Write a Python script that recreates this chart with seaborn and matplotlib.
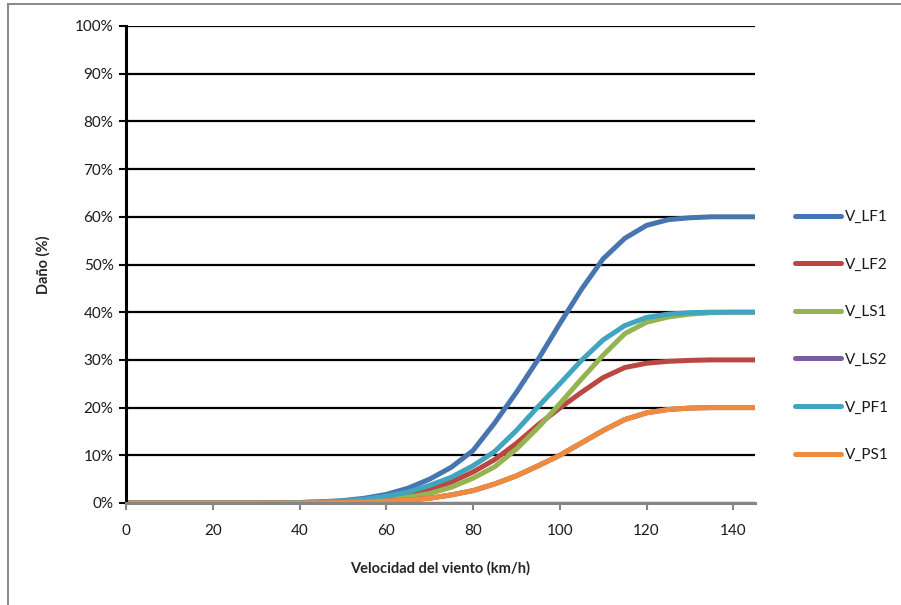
import matplotlib
matplotlib.use("Agg")
import matplotlib.pyplot as plt
from matplotlib.patches import Rectangle
from matplotlib.ticker import FuncFormatter
import seaborn as sns
import pandas as pd

# ---------------- data ----------------
speed = [0, 5, 10, 15, 20, 25, 30, 35, 40, 45, 50, 55, 60, 65, 70, 75,
         80, 85, 90, 95, 100, 105, 110, 115, 120, 125, 130, 135, 140, 145]

V_LF1 = [0, 0, 0, 0, 0, 0, 0, 0.05, 0.1, 0.25, 0.5, 1.0, 1.8, 3.1, 5.0, 7.5,
         11.0, 16.8, 23.2, 30.1, 37.6, 44.8, 51.2, 55.5, 58.2, 59.4, 59.8, 60, 60, 60]
V_LF2 = [0, 0, 0, 0, 0, 0, 0, 0, 0.1, 0.15, 0.3, 0.6, 1.0, 1.7, 2.8, 4.4,
         6.5, 9.1, 12.5, 16.4, 19.9, 23.2, 26.3, 28.4, 29.3, 29.7, 29.9, 30, 30, 30]
V_LS1 = [0, 0, 0, 0, 0, 0, 0, 0, 0.05, 0.1, 0.2, 0.4, 0.7, 1.2, 2.0, 3.3,
         5.2, 7.6, 11.3, 15.8, 20.8, 26.0, 31.0, 35.5, 37.9, 39.0, 39.6, 39.9, 40, 40]
V_LS2 = [0, 0, 0, 0, 0, 0, 0, 0, 0.0, 0.05, 0.1, 0.2, 0.4, 0.6, 1.0, 1.7,
         2.6, 4.0, 5.7, 7.8, 10.0, 12.6, 15.2, 17.5, 18.9, 19.6, 19.9, 20, 20, 20]
V_PF1 = [0, 0, 0, 0, 0, 0, 0, 0, 0.1, 0.2, 0.4, 0.8, 1.4, 2.3, 3.7, 5.4,
         7.8, 10.8, 15.2, 20.2, 25.0, 29.9, 34.2, 37.2, 38.9, 39.6, 39.9, 40, 40, 40]
V_PS1 = [0, 0, 0, 0, 0, 0, 0, 0, 0.0, 0.05, 0.1, 0.2, 0.4, 0.6, 1.0, 1.7,
         2.6, 4.0, 5.7, 7.8, 10.0, 12.6, 15.2, 17.5, 18.9, 19.6, 19.9, 20, 20, 20]

series_names = ["V_LF1", "V_LF2", "V_LS1", "V_LS2", "V_PF1", "V_PS1"]
series_values = [V_LF1, V_LF2, V_LS1, V_LS2, V_PF1, V_PS1]
series_colors = ["#4775B0", "#BA4744", "#93B451", "#7A5D9C", "#42A5C0", "#EE8B3C"]

y_ticks = [0, 10, 20, 30, 40, 50, 60, 70, 80, 90, 100]
x_ticks = [0, 20, 40, 60, 80, 100, 120, 140]

rows = []
for name, vals in zip(series_names, series_values):
    for s, v in zip(speed, vals):
        rows.append({"speed": s, "dano": v, "serie": name})
df = pd.DataFrame(rows)

# ---------------- style ----------------
sns.set_style("white")
plt.rcParams["font.family"] = ["Lato", "DejaVu Sans"]
plt.rcParams["text.color"] = "#1a1a1a"

fig = plt.figure(figsize=(9.01, 6.05), dpi=100)
ax = fig.add_axes([126 / 901, 1 - 503 / 605, (755 - 126) / 901, (503 - 26) / 605])

sns.lineplot(data=df, x="speed", y="dano", hue="serie", hue_order=series_names,
             palette=dict(zip(series_names, series_colors)), linewidth=3.6,
             estimator=None, sort=False, ax=ax, legend=True,
             solid_capstyle="round", solid_joinstyle="round")

ax.set_xlim(0, 145)
ax.set_ylim(0, 100)
ax.set_xticks(x_ticks)
ax.set_yticks(y_ticks)
ax.yaxis.set_major_formatter(FuncFormatter(lambda v, p: f"{v:.0f}%"))

ax.yaxis.grid(True, color="black", linewidth=1.6)
ax.xaxis.grid(False)
ax.set_axisbelow(True)

for sp in ["top", "right"]:
    ax.spines[sp].set_visible(False)
ax.spines["left"].set_color("black")
ax.spines["left"].set_linewidth(2.2)
ax.spines["bottom"].set_color("#868686")
ax.spines["bottom"].set_linewidth(2.2)

ax.tick_params(axis="x", direction="out", length=5, width=1.5, color="#868686",
               labelsize=11, pad=10, labelcolor="#1a1a1a", bottom=True)
ax.tick_params(axis="y", direction="out", length=5, width=1.5, color="black",
               labelsize=11, pad=4, labelcolor="#1a1a1a", left=True)

ax.set_xlabel("Velocidad del viento (km/h)", fontsize=10.5, fontweight="bold")
ax.set_ylabel("Daño (%)", fontsize=10.5, fontweight="bold")
ax.xaxis.set_label_coords(0.5, -0.122)
ax.yaxis.set_label_coords(-0.12, 0.5)

handles, labels = ax.get_legend_handles_labels()
ax.get_legend().remove()
for h in handles:
    h.set_linewidth(3.6)
fig.legend(handles, labels, loc="center left", bbox_to_anchor=(795 / 901, 1 - 336 / 605),
           frameon=False, handlelength=3.0, labelspacing=2.2, handletextpad=0.25,
           fontsize=11, borderpad=0, borderaxespad=0)

# outer chart-area border (only left and top visible in the crop)
fig.patches.append(Rectangle((8 / 901, -0.05), 1.2, (1 - 4 / 605) + 0.05,
                             transform=fig.transFigure, fill=False,
                             edgecolor="#8c8c8c", linewidth=1.5))

fig.savefig("out.png", dpi=100)
